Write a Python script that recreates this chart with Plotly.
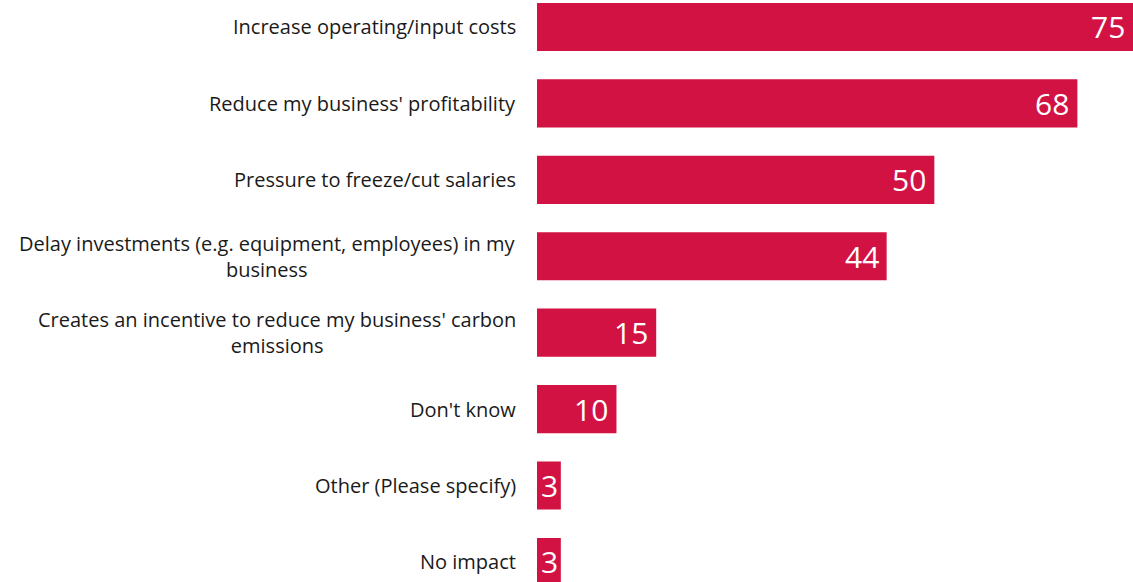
import plotly.graph_objects as go

# Survey responses: expected impact on the business (%)
categories = [
    "Increase operating/input costs",
    "Reduce my business' profitability",
    "Pressure to freeze/cut salaries",
    "Delay investments (e.g. equipment, employees) in my<br>business",
    "Creates an incentive to reduce my business' carbon<br>emissions",
    "Don't know",
    "Other (Please specify)",
    "No impact",
]
values = [75, 68, 50, 44, 15, 10, 3, 3]

BAR_COLOR = "#D21243"
FONT = "Open Sans"

fig = go.Figure(
    go.Bar(
        x=values,
        y=categories,
        orientation="h",
        width=0.63,
        marker=dict(color=BAR_COLOR, line=dict(width=0)),
        hoverinfo="skip",
    )
)

annotations = []
for cat, val in zip(categories, values):
    # category label to the left of the bar
    annotations.append(dict(
        x=0, xref="paper", y=cat, yref="y",
        text=cat, showarrow=False,
        xanchor="right", yanchor="middle", align="center",
        xshift=-19,
        font=dict(family=FONT, size=20, color="#1a1a1a"),
    ))
    # value label inside the end of the bar
    if val < 5:
        annotations.append(dict(
            x=val / 2, xref="x", y=cat, yref="y",
            text=str(val), showarrow=False,
            xanchor="center", yanchor="middle", xshift=1,
            font=dict(family=FONT, size=30, color="white"),
        ))
    else:
        annotations.append(dict(
            x=val, xref="x", y=cat, yref="y",
            text=str(val), showarrow=False,
            xanchor="right", yanchor="middle", xshift=-6,
            font=dict(family=FONT, size=30, color="white"),
        ))

fig.update_layout(
    width=1133,
    height=582,
    margin=dict(l=537, r=0, t=0, b=0),
    paper_bgcolor="white",
    plot_bgcolor="white",
    showlegend=False,
    annotations=annotations,
    xaxis=dict(range=[0, 75], visible=False, fixedrange=True),
    yaxis=dict(
        type="category",
        categoryorder="array",
        categoryarray=categories,
        range=[7.262, -0.353],
        autorange=False,
        showticklabels=False,
        showgrid=False,
        zeroline=False,
        showline=False,
        ticks="",
        fixedrange=True,
    ),
)

fig.write_html("out.html", config={"displayModeBar": False})
